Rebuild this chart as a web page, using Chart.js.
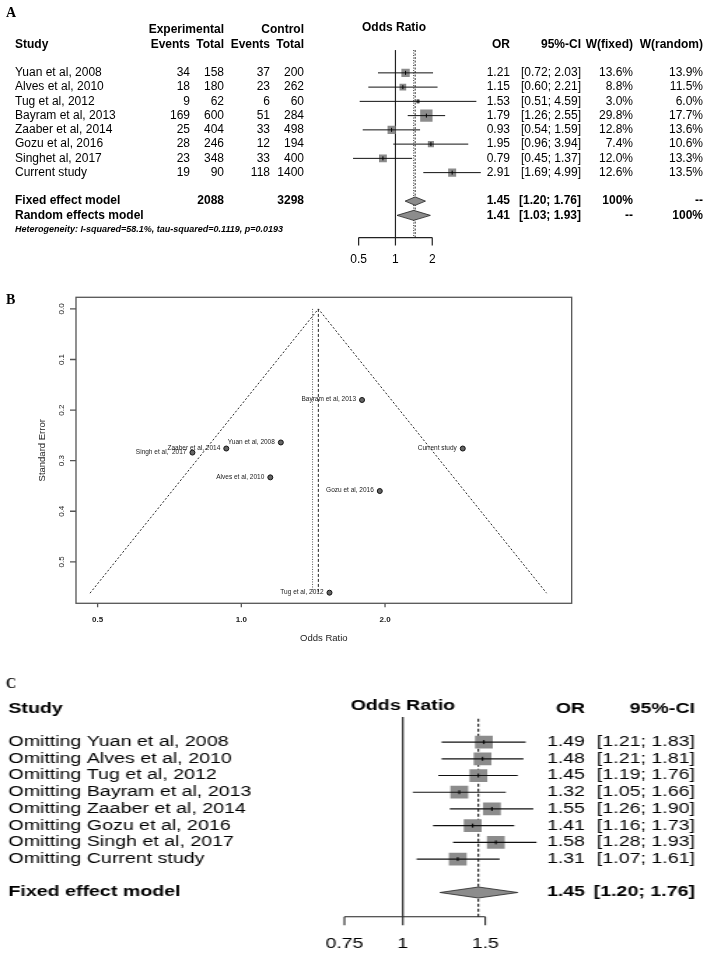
<!DOCTYPE html>
<html>
<head>
<meta charset="utf-8">
<script src="https://cdn.jsdelivr.net/npm/chart.js@4.4.1/dist/chart.umd.min.js"></script>
<style>
  body { margin: 0; background: #fff; width: 708px; height: 960px; position: relative; overflow: hidden; }
  canvas { position: absolute; display: block; }
  #wrapC { position: absolute; left: 0; top: 660px; width: 506px; height: 300px; transform: scaleX(1.4); transform-origin: 0 0; }
</style>
</head>
<body>
<canvas id="chartA" width="708" height="290" style="left:0;top:0"></canvas>
<canvas id="chartB" width="708" height="360" style="left:0;top:290px"></canvas>
<div id="wrapC"><canvas id="chartC" width="506" height="300" style="left:0;top:0"></canvas></div>
<script>
// ---- panel A data (forest plot) ----
const studies = ['Yuan et al, 2008', 'Alves et al, 2010', 'Tug et al, 2012', 'Bayram et al, 2013',
  'Zaaber et al, 2014', 'Gozu et al, 2016', 'Singhet al, 2017', 'Current study'];
const expEvents = [34, 18, 9, 169, 25, 28, 23, 19];
const expTotal = [158, 180, 62, 600, 404, 246, 348, 90];
const ctrlEvents = [37, 23, 6, 51, 33, 12, 33, 118];
const ctrlTotal = [200, 262, 60, 284, 498, 194, 400, 1400];
const orA = [1.21, 1.15, 1.53, 1.79, 0.93, 1.95, 0.79, 2.91];
const loA = [0.72, 0.60, 0.51, 1.26, 0.54, 0.96, 0.45, 1.69];
const hiA = [2.03, 2.21, 4.59, 2.55, 1.59, 3.94, 1.37, 4.99];
const wFixed = [13.6, 8.8, 3.0, 29.8, 12.8, 7.4, 12.0, 12.6];
const wRandom = [13.9, 11.5, 6.0, 17.7, 13.6, 10.6, 13.3, 13.5];
const fixedModel = [1.45, 1.20, 1.76];
const randomModel = [1.41, 1.03, 1.93];
const totalsA = [2088, 3298];
const heterogeneity = 'Heterogeneity: I-squared=58.1%, tau-squared=0.1119, p=0.0193';
const ticksA = [0.5, 1, 2];

// ---- panel B data (funnel plot) ----
const funnelNames = ['Yuan et al, 2008', 'Alves et al, 2010', 'Tug et al, 2012', 'Bayram et al, 2013',
  'Zaaber et al, 2014', 'Gozu et al, 2016', 'Singh et al,  2017', 'Current study'];
const seB = [0.264, 0.333, 0.561, 0.180, 0.276, 0.360, 0.284, 0.276];
const funnelX = [0.482, 1.45, 4.36];
const funnelY = [0.562, 0, 0.562];
const refSE = [0, 0.56];
const ticksBx = [0.5, 1.0, 2.0];
const ticksBxLabels = ['0.5', '1.0', '2.0'];
const ticksBy = [0, 0.1, 0.2, 0.3, 0.4, 0.5];
const ticksByLabels = ['0.0', '0.1', '0.2', '0.3', '0.4', '0.5'];

// ---- panel C data (leave-one-out) ----
const looNames = ['Omitting Yuan et al, 2008', 'Omitting Alves et al, 2010', 'Omitting Tug et al, 2012',
  'Omitting Bayram et al, 2013', 'Omitting Zaaber et al, 2014', 'Omitting Gozu et al, 2016',
  'Omitting Singh et al, 2017', 'Omitting Current study'];
const looOR = [1.49, 1.48, 1.45, 1.32, 1.55, 1.41, 1.58, 1.31];
const looLo = [1.21, 1.21, 1.19, 1.05, 1.26, 1.16, 1.28, 1.07];
const looHi = [1.83, 1.81, 1.76, 1.66, 1.90, 1.73, 1.93, 1.61];
const ticksC = [0.75, 1, 1.5];

const SANS = '"Liberation Sans", Arial, Helvetica, sans-serif';
const SERIF = '"Liberation Serif", "Times New Roman", serif';
const GREY = '#8c8c8c';

function put(ctx, s, x, y, align, font, color) {
  ctx.font = font;
  ctx.textAlign = align;
  ctx.textBaseline = 'middle';
  ctx.fillStyle = color || '#000';
  ctx.fillText(s, x, y);
}

function ci(lo, hi) {
  return '[' + lo.toFixed(2) + '; ' + hi.toFixed(2) + ']';
}

function vline(chart, v, r0, r1, dash, width, color) {
  const ctx = chart.ctx, xs = chart.scales.x, ys = chart.scales.y;
  const x = xs.getPixelForValue(v);
  ctx.save();
  ctx.beginPath();
  ctx.setLineDash(dash);
  ctx.lineWidth = width;
  ctx.strokeStyle = color;
  ctx.moveTo(x, ys.getPixelForValue(r0));
  ctx.lineTo(x, ys.getPixelForValue(r1));
  ctx.stroke();
  ctx.restore();
}

function diamond(chart, est, lo, hi, row, h) {
  const ctx = chart.ctx, xs = chart.scales.x;
  const y = chart.scales.y.getPixelForValue(row);
  ctx.save();
  ctx.beginPath();
  ctx.moveTo(xs.getPixelForValue(lo), y);
  ctx.lineTo(xs.getPixelForValue(est), y - h);
  ctx.lineTo(xs.getPixelForValue(hi), y);
  ctx.lineTo(xs.getPixelForValue(est), y + h);
  ctx.closePath();
  ctx.fillStyle = GREY;
  ctx.fill();
  ctx.lineWidth = 0.8;
  ctx.strokeStyle = '#222';
  ctx.stroke();
  ctx.restore();
}

function forestAxis(chart, ticks, row, tickLen, labOff, font, width) {
  const ctx = chart.ctx, xs = chart.scales.x;
  const y = chart.scales.y.getPixelForValue(row);
  ctx.save();
  ctx.beginPath();
  ctx.lineWidth = width;
  ctx.strokeStyle = '#222';
  ctx.moveTo(xs.getPixelForValue(ticks[0]), y);
  ctx.lineTo(xs.getPixelForValue(ticks[ticks.length - 1]), y);
  ticks.forEach(t => {
    const x = xs.getPixelForValue(t);
    ctx.moveTo(x, y);
    ctx.lineTo(x, y + tickLen);
  });
  ctx.stroke();
  ticks.forEach(t => put(ctx, String(t), xs.getPixelForValue(t), y + labOff, 'center', font));
  ctx.restore();
}

function forestDatasets(est, lo, hi, radius, lineWidth) {
  const pts = est.map((v, i) => ({ x: v, y: i }));
  const lines = lo.map((l, i) => ({
    data: [{ x: l, y: i }, { x: hi[i], y: i }],
    showLine: true, borderColor: '#111', borderWidth: lineWidth, pointRadius: 0
  }));
  return [
    { data: pts, pointStyle: 'line', rotation: 90, pointRadius: 2, borderColor: '#000', borderWidth: 1 },
    ...lines,
    { data: pts, pointStyle: 'rect', pointRadius: radius, backgroundColor: GREY, borderColor: GREY, borderWidth: 0 }
  ];
}

function baseOptions(padding, xmin, xmax, ymin, ymax) {
  return {
    responsive: false, animation: false, events: [], devicePixelRatio: 1,
    layout: { padding: padding },
    plugins: { legend: { display: false }, tooltip: { enabled: false } },
    scales: {
      x: { type: 'logarithmic', min: xmin, max: xmax, display: false },
      y: { type: 'linear', min: ymin, max: ymax, reverse: true, display: false }
    }
  };
}

// ================= Panel A =================
const panelA = {
  id: 'panelA',
  beforeDatasetsDraw(chart) {
    vline(chart, 1, -1.6, 11.56, [], 1.2, '#222');
    vline(chart, fixedModel[0], -1.6, 11.56, [2, 1.5], 1, '#333');
    vline(chart, randomModel[0], -1.6, 11.56, [1, 1.5], 1, '#333');
  },
  afterDatasetsDraw(chart) {
    diamond(chart, fixedModel[0], fixedModel[1], fixedModel[2], 9, 4.2);
    diamond(chart, randomModel[0], randomModel[1], randomModel[2], 10, 5);
    forestAxis(chart, ticksA, 11.56, 8, 22, '12px ' + SANS, 1.2);
  },
  afterDraw(chart) {
    const ctx = chart.ctx;
    const Y = r => chart.scales.y.getPixelForValue(r);
    const reg = '12px ' + SANS, bold = 'bold 12px ' + SANS;
    put(ctx, 'A', 6, 13.7, 'left', 'bold 14px ' + SERIF);
    put(ctx, 'Experimental', 224, Y(-3), 'right', bold);
    put(ctx, 'Control', 304, Y(-3), 'right', bold);
    put(ctx, 'Odds Ratio', 394, Y(-3.16), 'center', bold);
    put(ctx, 'Study', 15, Y(-2), 'left', bold);
    put(ctx, 'Events', 190, Y(-2), 'right', bold);
    put(ctx, 'Total', 224, Y(-2), 'right', bold);
    put(ctx, 'Events', 270, Y(-2), 'right', bold);
    put(ctx, 'Total', 304, Y(-2), 'right', bold);
    put(ctx, 'OR', 510, Y(-2), 'right', bold);
    put(ctx, '95%-CI', 581, Y(-2), 'right', bold);
    put(ctx, 'W(fixed)', 633, Y(-2), 'right', bold);
    put(ctx, 'W(random)', 703, Y(-2), 'right', bold);
    studies.forEach((s, i) => {
      const y = Y(i);
      put(ctx, s, 15, y, 'left', reg);
      put(ctx, String(expEvents[i]), 190, y, 'right', reg);
      put(ctx, String(expTotal[i]), 224, y, 'right', reg);
      put(ctx, String(ctrlEvents[i]), 270, y, 'right', reg);
      put(ctx, String(ctrlTotal[i]), 304, y, 'right', reg);
      put(ctx, orA[i].toFixed(2), 510, y, 'right', reg);
      put(ctx, ci(loA[i], hiA[i]), 581, y, 'right', reg);
      put(ctx, wFixed[i].toFixed(1) + '%', 633, y, 'right', reg);
      put(ctx, wRandom[i].toFixed(1) + '%', 703, y, 'right', reg);
    });
    put(ctx, 'Fixed effect model', 15, Y(9), 'left', bold);
    put(ctx, String(totalsA[0]), 224, Y(9), 'right', bold);
    put(ctx, String(totalsA[1]), 304, Y(9), 'right', bold);
    put(ctx, fixedModel[0].toFixed(2), 510, Y(9), 'right', bold);
    put(ctx, ci(fixedModel[1], fixedModel[2]), 581, Y(9), 'right', bold);
    put(ctx, '100%', 633, Y(9), 'right', bold);
    put(ctx, '--', 703, Y(9), 'right', bold);
    put(ctx, 'Random effects model', 15, Y(10), 'left', bold);
    put(ctx, randomModel[0].toFixed(2), 510, Y(10), 'right', bold);
    put(ctx, ci(randomModel[1], randomModel[2]), 581, Y(10), 'right', bold);
    put(ctx, '--', 633, Y(10), 'right', bold);
    put(ctx, '100%', 703, Y(10), 'right', bold);
    put(ctx, heterogeneity, 15, Y(11), 'left', 'italic bold 9px ' + SANS);
  }
};

new Chart(document.getElementById('chartA'), {
  type: 'scatter',
  data: { datasets: forestDatasets(orA, loA, hiA, c => 1.6 * Math.sqrt(wFixed[c.dataIndex]), 1) },
  options: baseOptions({ left: 350, right: 223, top: 5, bottom: 10.5 }, 0.425, 5.4, -4.5, 14.5),
  plugins: [panelA]
});

// ================= Panel B =================
const panelB = {
  id: 'panelB',
  afterDatasetsDraw(chart) {
    const ctx = chart.ctx, xs = chart.scales.x, ys = chart.scales.y;
    funnelNames.forEach((s, i) => {
      put(ctx, s, xs.getPixelForValue(orA[i]) - 6, ys.getPixelForValue(seB[i]) - 0.5, 'right', '6.5px ' + SANS, '#1a1a1a');
    });
  },
  afterDraw(chart) {
    const ctx = chart.ctx, a = chart.chartArea, xs = chart.scales.x, ys = chart.scales.y;
    ctx.save();
    ctx.strokeStyle = '#555';
    ctx.lineWidth = 1.3;
    ctx.strokeRect(a.left, a.top, a.right - a.left, a.bottom - a.top);
    ctx.beginPath();
    ticksBy.forEach(t => {
      const y = ys.getPixelForValue(t);
      ctx.moveTo(a.left, y);
      ctx.lineTo(a.left - 6, y);
    });
    ticksBx.forEach(t => {
      const x = xs.getPixelForValue(t);
      ctx.moveTo(x, a.bottom);
      ctx.lineTo(x, a.bottom + 4);
    });
    ctx.stroke();
    ticksBy.forEach((t, i) => {
      ctx.save();
      ctx.translate(a.left - 14.3, ys.getPixelForValue(t));
      ctx.rotate(-Math.PI / 2);
      put(ctx, ticksByLabels[i], 0, 0, 'center', '8px ' + SANS, '#222');
      ctx.restore();
    });
    ticksBx.forEach((t, i) => put(ctx, ticksBxLabels[i], xs.getPixelForValue(t), a.bottom + 16, 'center', 'bold 8px ' + SANS, '#222'));
    put(ctx, 'Odds Ratio', (a.left + a.right) / 2, a.bottom + 34.7, 'center', '9.5px ' + SANS, '#222');
    ctx.save();
    ctx.translate(42.7, (a.top + a.bottom) / 2);
    ctx.rotate(-Math.PI / 2);
    put(ctx, 'Standard Error', 0, 0, 'center', '9.5px ' + SANS, '#222');
    ctx.restore();
    put(ctx, 'B', 6, 10.8, 'left', 'bold 14px ' + SERIF);
    ctx.restore();
  }
};

new Chart(document.getElementById('chartB'), {
  type: 'scatter',
  data: {
    datasets: [
      { data: orA.map((v, i) => ({ x: v, y: seB[i] })), pointRadius: 2.5, backgroundColor: '#666', borderColor: '#111', borderWidth: 1 },
      { data: funnelX.map((v, i) => ({ x: v, y: funnelY[i] })), showLine: true, borderColor: '#222', borderWidth: 1, borderDash: [2, 2], pointRadius: 0 },
      { data: refSE.map(s => ({ x: fixedModel[0], y: s })), showLine: true, borderColor: '#222', borderWidth: 1, borderDash: [3, 2], pointRadius: 0 },
      { data: refSE.map(s => ({ x: randomModel[0], y: s })), showLine: true, borderColor: '#444', borderWidth: 0.9, borderDash: [1, 1.5], pointRadius: 0 }
    ]
  },
  options: baseOptions({ left: 76, right: 136.3, top: 7.3, bottom: 46.7 }, 0.4505, 4.921, -0.023, 0.582),
  plugins: [panelB]
});

// ================= Panel C (drawn narrow, stretched 1.4x by CSS) =================
const panelC = {
  id: 'panelC',
  beforeDatasetsDraw(chart) {
    vline(chart, 1, -1.5, 10.45, [], 1.1, '#111');
    vline(chart, fixedModel[0], -1.39, 10.45, [3, 2], 1.1, '#111');
  },
  afterDatasetsDraw(chart) {
    diamond(chart, fixedModel[0], fixedModel[1], fixedModel[2], 9, 5.5);
    forestAxis(chart, ticksC, 10.45, 8.5, 27, '14px ' + SANS, 1.1);
  },
  afterDraw(chart) {
    const ctx = chart.ctx;
    const Y = r => chart.scales.y.getPixelForValue(r);
    const reg = '14px ' + SANS, bold = 'bold 14px ' + SANS;
    ctx.save();
    ctx.scale(1 / 1.4, 1);
    put(ctx, 'C', 6, 24.6, 'left', 'bold 14px ' + SERIF);
    ctx.restore();
    put(ctx, 'Study', 6, Y(-2), 'left', bold);
    put(ctx, 'Odds Ratio', chart.scales.x.getPixelForValue(1), Y(-2.16), 'center', bold);
    put(ctx, 'OR', 417.9, Y(-2), 'right', bold);
    put(ctx, '95%-CI', 496.4, Y(-2), 'right', bold);
    looNames.forEach((s, i) => {
      put(ctx, s, 6, Y(i), 'left', reg);
      put(ctx, looOR[i].toFixed(2), 417.9, Y(i), 'right', reg);
      put(ctx, ci(looLo[i], looHi[i]), 496.4, Y(i), 'right', reg);
    });
    put(ctx, 'Fixed effect model', 6, Y(9), 'left', bold);
    put(ctx, fixedModel[0].toFixed(2), 417.9, Y(9), 'right', bold);
    put(ctx, ci(fixedModel[1], fixedModel[2]), 496.4, Y(9), 'right', bold);
  }
};

new Chart(document.getElementById('chartC'), {
  type: 'scatter',
  data: { datasets: forestDatasets(looOR, looLo, looHi, 9, 1.2) },
  options: baseOptions({ left: 236, right: 106, top: 15.24, bottom: 1.95 }, 0.7208, 2.167, -4, 12.5),
  plugins: [panelC]
});
</script>
</body>
</html>
